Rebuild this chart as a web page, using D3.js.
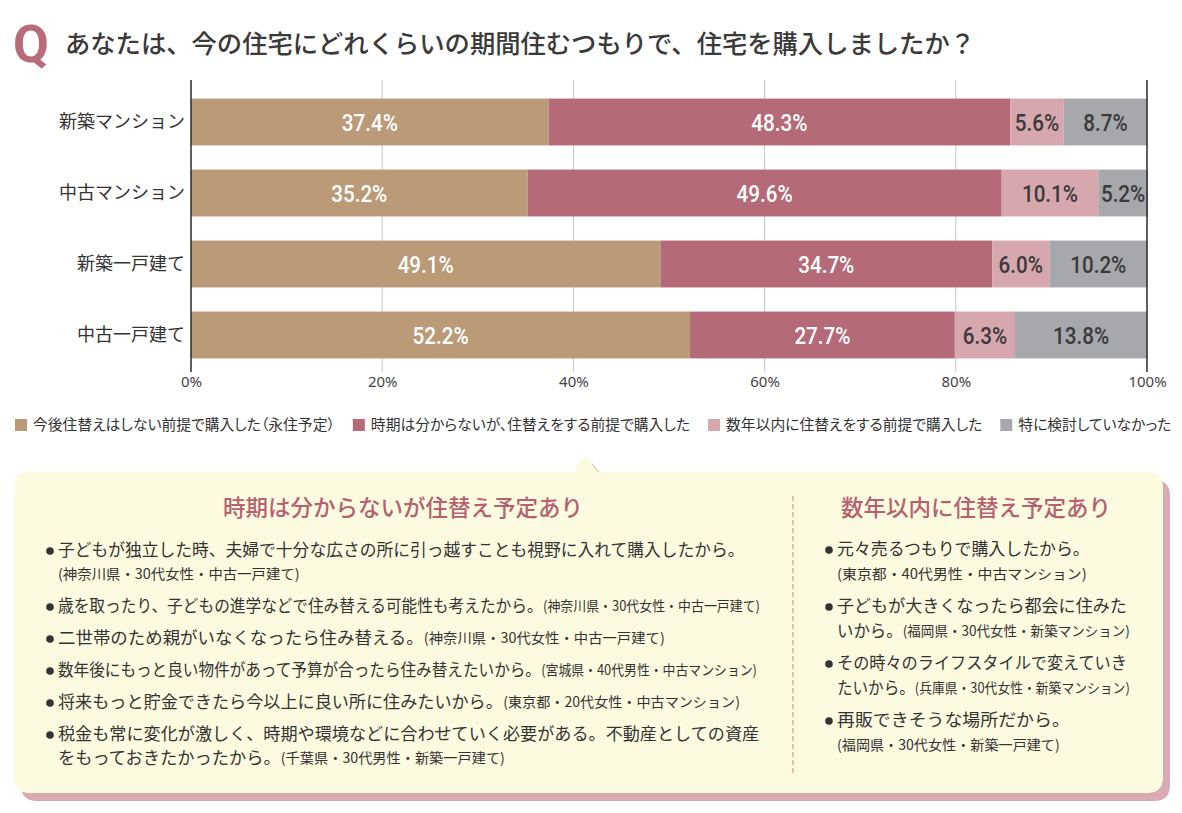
<!DOCTYPE html>
<html><head><meta charset="utf-8">
<script src="https://cdn.jsdelivr.net/npm/d3@7"></script>
<style>
html,body{margin:0;padding:0;background:#fff;}
svg{display:block;}
text{font-family:"Noto Sans CJK JP","Noto Sans",sans-serif;}
</style></head>
<body>
<svg id="chart" width="1182" height="813"></svg>
<script>
// ---- data ----
const title = "あなたは、今の住宅にどれくらいの期間住むつもりで、住宅を購入しましたか？";
const categories = ["新築マンション", "中古マンション", "新築一戸建て", "中古一戸建て"];
const seriesNames = [
  "今後住替えはしない前提で購入した（永住予定）",
  "時期は分からないが、住替えをする前提で購入した",
  "数年以内に住替えをする前提で購入した",
  "特に検討していなかった"
];
const permanent = [37.4, 35.2, 49.1, 52.2];
const undecided = [48.3, 49.6, 34.7, 27.7];
const withinYears = [5.6, 10.1, 6.0, 6.3];
const notConsidered = [8.7, 5.2, 10.2, 13.8];
const tickValues = [0, 20, 40, 60, 80, 100];
const tickLabels = ["0%", "20%", "40%", "60%", "80%", "100%"];
const colors = ["#bb9a78", "#b56a77", "#d6a8ae", "#a7a8ac"];
const labelColors = ["#ffffff", "#ffffff", "#3a3a3a", "#3a3a3a"];

const leftHeading = "時期は分からないが住替え予定あり";
const leftComments = [
  [["子どもが独立した時、夫婦で十分な広さの所に引っ越すことも視野に入れて購入したから。", ""], ["", "(神奈川県・30代女性・中古一戸建て)"]],
  [["歳を取ったり、子どもの進学などで住み替える可能性も考えたから。", "(神奈川県・30代女性・中古一戸建て)"]],
  [["二世帯のため親がいなくなったら住み替える。", "(神奈川県・30代女性・中古一戸建て)"]],
  [["数年後にもっと良い物件があって予算が合ったら住み替えたいから。", "(宮城県・40代男性・中古マンション)"]],
  [["将来もっと貯金できたら今以上に良い所に住みたいから。", "(東京都・20代女性・中古マンション)"]],
  [["税金も常に変化が激しく、時期や環境などに合わせていく必要がある。不動産としての資産", ""], ["をもっておきたかったから。", "(千葉県・30代男性・新築一戸建て)"]]
];
const rightHeading = "数年以内に住替え予定あり";
const rightComments = [
  [["元々売るつもりで購入したから。", ""], ["", "(東京都・40代男性・中古マンション)"]],
  [["子どもが大きくなったら都会に住みた", ""], ["いから。", "(福岡県・30代女性・新築マンション)"]],
  [["その時々のライフスタイルで変えていき", ""], ["たいから。", "(兵庫県・30代女性・新築マンション)"]],
  [["再販できそうな場所だから。", ""], ["", "(福岡県・30代女性・新築一戸建て)"]]
];

// ---- layout (line right edges as set in the original) ----
const leftLineEnds = [745, 300, 760, 665, 757, 740, 760, 505];
const rightLineEnds = [1090, 1087, 1127, 1130, 1127, 1130, 1070, 1060];

// ---- drawing ----
const svg = d3.select("#chart");
const series = [permanent, undecided, withinYears, notConsidered];

// title
svg.append("text").attr("x", 13).attr("y", 62)
  .style("font-family", "Roboto, 'DejaVu Sans', sans-serif").style("font-weight", 700)
  .style("font-size", "52px").attr("fill", "#b86c7a").text("Q");
svg.append("text").attr("x", 65).attr("y", 53)
  .attr("textLength", 910).attr("lengthAdjust", "spacingAndGlyphs")
  .style("font-size", "25.4px").style("font-weight", 500).attr("fill", "#3a3a3a").text(title);

const x = d3.scaleLinear().domain([0, 100]).range([191, 1147]);
const y = d3.scaleBand().domain(categories).range([86.5, 370.5]).paddingInner(0.34).paddingOuter(0.17);

// gridlines
const gridTop = 80, gridBottom = 372;
svg.append("g").selectAll("line").data(tickValues.filter(d => d > 0 && d < 100)).join("line")
  .attr("x1", d => x(d)).attr("x2", d => x(d))
  .attr("y1", gridTop).attr("y2", gridBottom)
  .attr("stroke", "#c4c4c4").attr("stroke-width", 1);

// x axis labels
const xAxis = d3.axisBottom(x).tickValues(tickValues).tickFormat((d, i) => tickLabels[i]).tickSize(0).tickPadding(0);
const gx = svg.append("g").attr("transform", `translate(0,${gridBottom + 4})`).call(xAxis);
gx.select(".domain").remove();
gx.selectAll("text").style("font-family", "'Noto Sans','Noto Sans CJK JP',sans-serif")
  .style("font-size", "15px").attr("fill", "#444");

// y labels
const yAxis = d3.axisLeft(y).tickSize(0).tickPadding(6);
const gy = svg.append("g").attr("transform", `translate(${x(0)},0)`).call(yAxis);
gy.select(".domain").remove();
gy.selectAll("text").style("font-family", "'Noto Sans CJK JP',sans-serif")
  .style("font-size", "18px").attr("fill", "#333");

// stacked bars
const rows = categories.map((c, i) => {
  let acc = 0;
  return series.map((s, k) => { const o = {cat: c, k, v: s[i], x0: acc, x1: acc + s[i]}; acc += s[i]; return o; });
});
const segs = rows.flat();
svg.append("g").selectAll("rect").data(segs).join("rect")
  .attr("x", d => x(d.x0)).attr("y", d => y(d.cat))
  .attr("width", d => x(d.x1) - x(d.x0)).attr("height", y.bandwidth())
  .attr("fill", d => colors[d.k]);
svg.append("g").selectAll("text").data(segs).join("text")
  .attr("transform", d => `translate(${(x(d.x0) + x(d.x1)) / 2},${y(d.cat) + y.bandwidth() / 2}) scale(0.86,1)`)
  .attr("dy", "0.36em").attr("text-anchor", "middle")
  .style("font-family", "Roboto,'Noto Sans',sans-serif")
  .style("font-weight", 500)
  .style("font-size", "24px").attr("fill", d => labelColors[d.k])
  .text(d => d.v.toFixed(1) + "%");
// axis edge lines
[0, 100].forEach(v => svg.append("line").attr("x1", x(v)).attr("x2", x(v)).attr("y1", gridTop).attr("y2", gridBottom)
  .attr("stroke", "#2a2a2a").attr("stroke-width", 1.5));

// legend
const legend = svg.append("g");
let lx = 15;
seriesNames.forEach((name, k) => {
  legend.append("rect").attr("x", lx).attr("y", 419).attr("width", 12).attr("height", 12).attr("fill", colors[k]);
  const t = legend.append("text").attr("x", lx + 18).attr("y", 425).attr("dy", "0.36em")
    .style("font-feature-settings", "'palt'")
    .style("font-size", "14.8px").attr("fill", "#333").text(name);
  lx += 18 + t.node().getComputedTextLength() + 18;
});

// callout box
function boxPath(dx, dy) {
  const x0 = 14 + dx, y0 = 472 + dy, x1 = 1163 + dx, y1 = 793 + dy, r = 16;
  const ax = 585 + dx, ay = 455 + dy;
  return `M${x0 + r},${y0} L${ax - 12},${y0} L${ax},${ay} L${ax + 13},${y0} L${x1 - r},${y0}
    Q${x1},${y0} ${x1},${y0 + r} L${x1},${y1 - r} Q${x1},${y1} ${x1 - r},${y1}
    L${x0 + r},${y1} Q${x0},${y1} ${x0},${y1 - r} L${x0},${y0 + r} Q${x0},${y0} ${x0 + r},${y0} Z`;
}
svg.append("path").attr("d", boxPath(7, 8)).attr("fill", "#d9aab1");
svg.append("path").attr("d", boxPath(0, 0)).attr("fill", "#fdfbdf");

svg.append("line").attr("x1", 793).attr("x2", 793).attr("y1", 496).attr("y2", 775)
  .attr("stroke", "#c98893").attr("stroke-width", 1).attr("stroke-dasharray", "5,3");

function heading(text, cx) {
  svg.append("text").attr("x", cx).attr("y", 508).attr("dy", "0.36em").attr("text-anchor", "middle")
    .style("font-size", "22.5px").style("font-weight", 500).attr("fill", "#b6616f").text(text);
}
heading(leftHeading, 403);
heading(rightHeading, 976);

function comments(list, ends, opts) {
  let cy = opts.start, li = 0;
  list.forEach((item, i) => {
    if (i > 0) cy += opts.itemGap;
    svg.append("circle").attr("cx", opts.bx).attr("cy", cy + 1).attr("r", 3.8).attr("fill", "#333");
    item.forEach((line, j) => {
      if (j > 0) cy += opts.lineGap;
      const parts = [[line[0], opts.main], [line[1], opts.note]].filter(p => p[0]);
      const nodes = parts.map(p => svg.append("text").attr("x", 0).attr("y", 0).attr("dy", "0.36em").attr("fill", "#333")
        .style("font-size", p[1] + "px").text(p[0]));
      const widths = nodes.map(n => n.node().getComputedTextLength());
      const k = (ends[li] - opts.tx) / d3.sum(widths);
      let px = opts.tx;
      nodes.forEach((n, m) => {
        n.attr("transform", `translate(${px},${cy}) scale(${k},1)`);
        px += widths[m] * k;
      });
      li++;
    });
  });
}
comments(leftComments, leftLineEnds, {start: 550, itemGap: 32, lineGap: 24, bx: 50, tx: 58, main: 17, note: 14});
comments(rightComments, rightLineEnds, {start: 549, itemGap: 32, lineGap: 25, bx: 829, tx: 837, main: 17, note: 14});
</script>
</body></html>
